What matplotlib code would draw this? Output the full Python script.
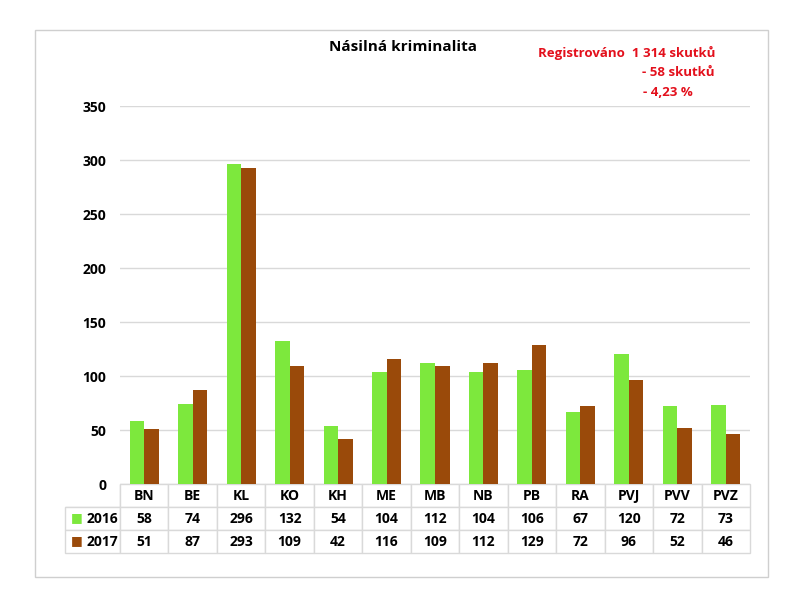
import numpy as np
import matplotlib.pyplot as plt
from matplotlib.patches import Rectangle

plt.rcParams['font.family'] = ['Open Sans', 'DejaVu Sans']

okresy = ['BN', 'BE', 'KL', 'KO', 'KH', 'ME', 'MB', 'NB', 'PB', 'RA', 'PVJ', 'PVV', 'PVZ']
rok2016 = [58, 74, 296, 132, 54, 104, 112, 104, 106, 67, 120, 72, 73]
rok2017 = [51, 87, 293, 109, 42, 116, 109, 112, 129, 72, 96, 52, 46]

zelena = '#7de83d'
hneda = '#9a4a0a'
cervena = '#e3101c'
seda = '#d9d9d9'

fig = plt.figure(figsize=(8, 6), dpi=100)
ax = fig.add_axes([0.15, 0.1933, 0.7875, 0.63])

# ramecek kolem celeho grafu
fig.patches.append(Rectangle((35/800, 1-577/600), 733/800, 547/600,
                             transform=fig.transFigure, fill=False,
                             edgecolor='#cfcfcf', lw=1))

x = np.arange(len(okresy))
w = 0.3
ax.bar(x - w/2, rok2016, w, color=zelena, zorder=3)
ax.bar(x + w/2, rok2017, w, color=hneda, zorder=3)

ax.set_xlim(-0.5, len(okresy) - 0.5)
ax.set_ylim(0, 350)
yt = list(range(0, 351, 50))
ax.set_yticks(yt)
ax.set_yticklabels([str(v) for v in yt], fontweight='bold', fontsize=10)
ax.set_xticks([])
ax.grid(axis='y', color=seda, lw=1, zorder=0)
for s in ['top', 'right', 'left', 'bottom']:
    ax.spines[s].set_visible(False)
ax.tick_params(axis='y', length=0, pad=10)

# tabulka s hodnotami
bunky = [[''] + okresy,
         ['2016'] + [str(v) for v in rok2016],
         ['2017'] + [str(v) for v in rok2017]]
sirky = [55/685] + [48.46/685] * len(okresy)
tab = ax.table(cellText=bunky, colWidths=sirky, cellLoc='center',
               bbox=[-55/630, -69/378, 685/630, 69/378])
tab.auto_set_font_size(False)
tab.set_fontsize(10)
for (r, c), cell in tab.get_celld().items():
    cell.set_edgecolor(seda)
    cell.set_text_props(fontweight='bold')
    if c == 0:
        cell.get_text().set_ha('right')
        cell._loc = 'right'
        cell.PAD = 0.04
    if r == 0 and c == 0:
        cell.visible_edges = 'BR'

# legenda - barevne ctverecky u popisku radku
ax.text(-49/630, -34/378, '■', color=zelena, fontsize=9, va='center', ha='left',
        transform=ax.transAxes, family='DejaVu Sans')
ax.text(-49/630, -57/378, '■', color=hneda, fontsize=9, va='center', ha='left',
        transform=ax.transAxes, family='DejaVu Sans')

fig.text(403/800, 1-47/600, 'Násilná kriminalita', ha='center', va='center',
         fontsize=11, fontweight='bold')
fig.text(715/800, 1-53/600, 'Registrováno  1 314 skutků', ha='right', va='center',
         fontsize=9.5, fontweight='bold', color=cervena)
fig.text(715/800, 1-73/600, '- 58 skutků', ha='right', va='center',
         fontsize=9.5, fontweight='bold', color=cervena)
fig.text(643/800, 1-92/600, '- 4,23 %', ha='left', va='center',
         fontsize=9.5, fontweight='bold', color=cervena)

fig.savefig('out.png', dpi=100)
